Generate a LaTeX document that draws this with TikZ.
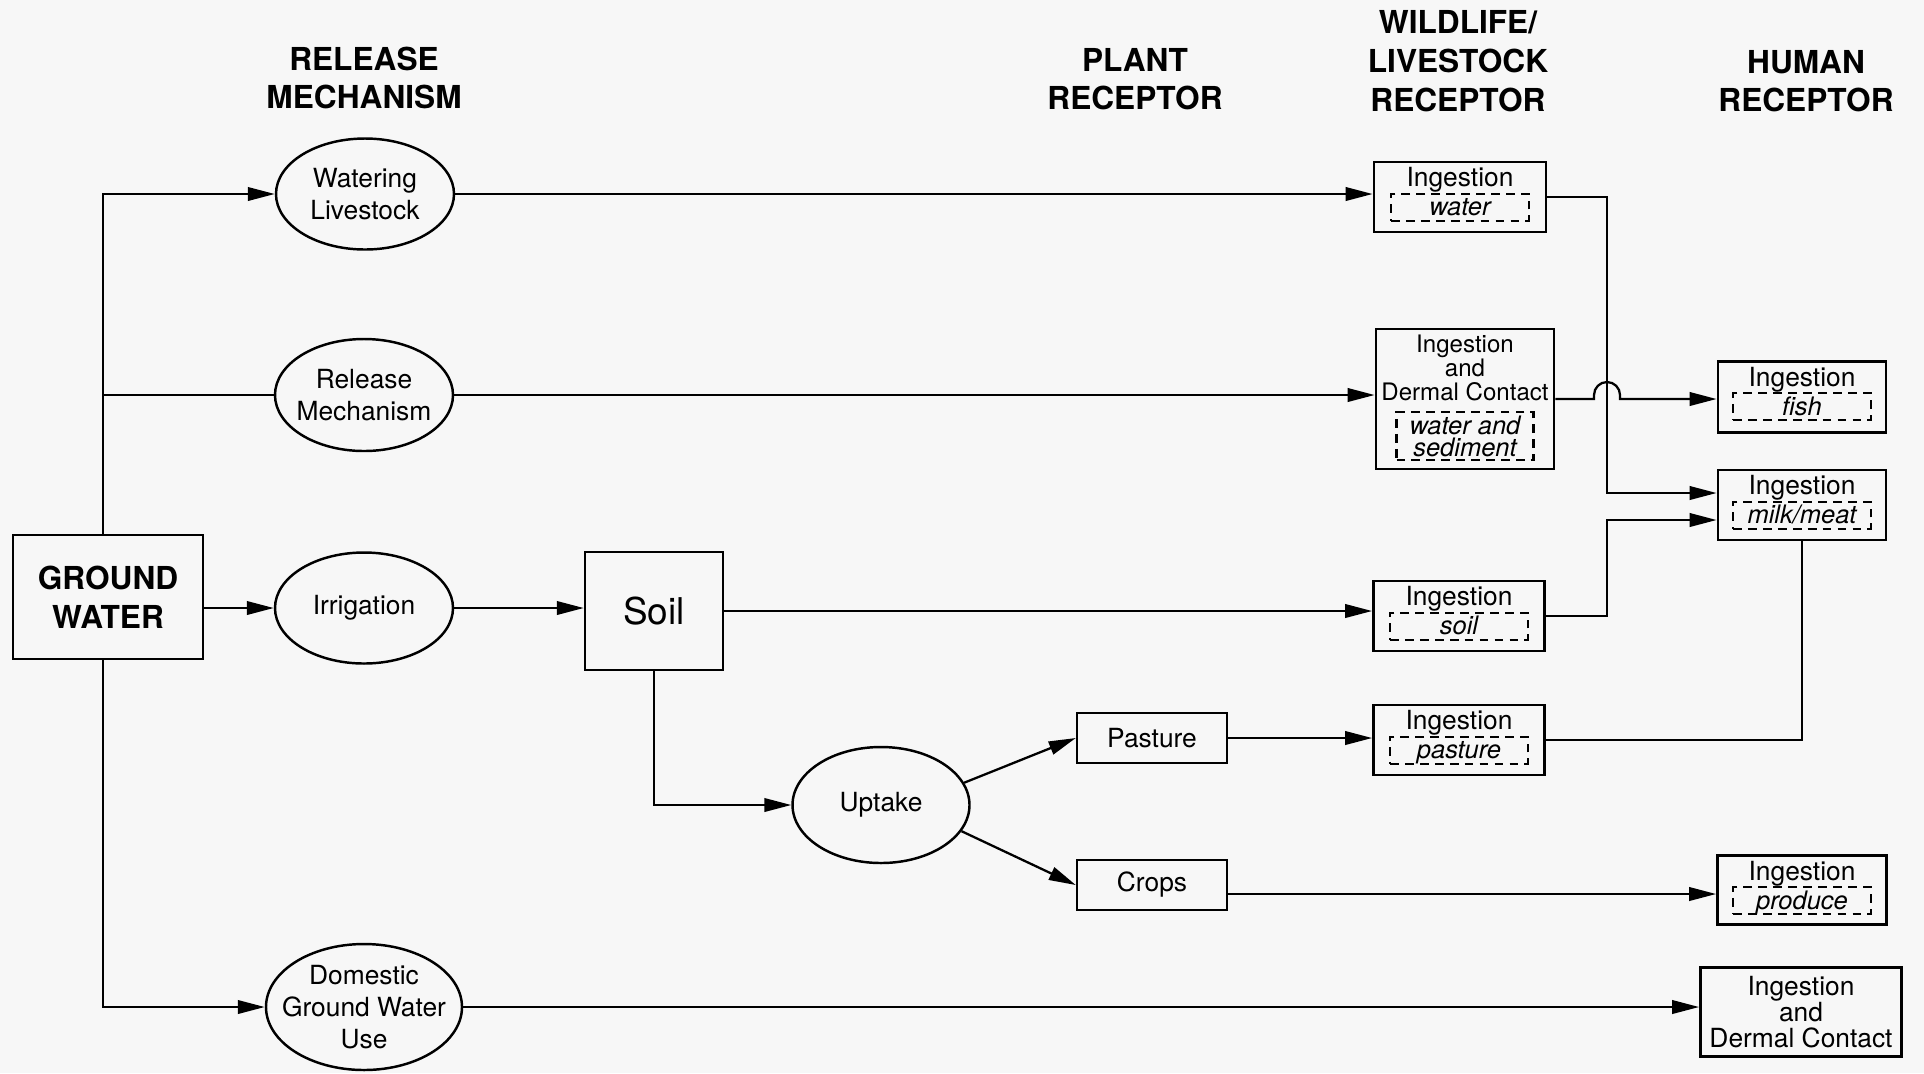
\documentclass[tikz,border=0pt]{standalone}
\usepackage{fontspec}
\setmainfont{TeX Gyre Heros}
\usepackage{tikz}
\usetikzlibrary{arrows.meta}
\usetikzlibrary{shapes.geometric}
\usetikzlibrary{positioning}

\begin{document}
\begin{tikzpicture}[x=0.2mm, y=-0.2mm, >={Triangle[length=0.54cm,width=0.27cm]}]
  \tikzstyle{every node}=[font=\fontsize{15}{18}\selectfont, align=center]
  \tikzstyle{head}=[font=\fontsize{18}{22}\selectfont\bfseries]
  \tikzstyle{mech}=[ellipse, draw, line width=1.4pt, inner xsep=-10pt, inner ysep=0pt, minimum width=3.56cm, minimum height=2.22cm]
  \tikzstyle{plant}=[rectangle, draw, line width=1.4pt, minimum width=3cm, minimum height=1cm]
  \tikzstyle{ingbox}=[rectangle, draw, line width=1.6pt, minimum width=3.42cm, minimum height=1.4cm]
  \tikzstyle{ingtxt}=[anchor=base, inner sep=0pt]
  \tikzstyle{media}=[rectangle, draw, dash pattern=on 5pt off 3.5pt, line width=1.2pt, minimum width=2.76cm, minimum height=0.54cm, inner sep=0pt, text height=9.5pt, text depth=0pt, font=\fontsize{14.5}{13}\selectfont\itshape, anchor=north]
  \tikzstyle{link}=[line width=1.3pt]

  \fill[black!3] (0,0) rectangle (1924,1073);
  \useasboundingbox (0,0) rectangle (1924,1073);

  % column headings
  \node[head] (hrel) at (364,78) {RELEASE\\MECHANISM};
  \node[head] (hplant) at (1135,79) {PLANT\\RECEPTOR};
  \node[head] (hwild) at (1458,61) {WILDLIFE/\\LIVESTOCK\\RECEPTOR};
  \node[head] (hhum) at (1806,81) {HUMAN\\RECEPTOR};

  \node[rectangle, draw, line width=1.6pt, minimum width=3.8cm, minimum height=2.48cm, head] (gw) at (108,597) {GROUND\\WATER};

  \node[mech] (wat) at (365,194) {Watering\\Livestock};
  \node[mech, minimum height=2.24cm] (rel) at (364,395) {Release\\Mechanism};
  \node[mech] (irr) at (364,608) {Irrigation};
  \node[mech, minimum width=3.92cm, minimum height=2.52cm] (dom) at (364,1007) {Domestic\\Ground Water\\Use};
  \node[rectangle, draw, line width=1.4pt, minimum width=2.76cm, minimum height=2.36cm, font=\fontsize{21}{25}\selectfont] (soil) at (654,611) {Soil};
  \node[mech, minimum width=3.54cm, minimum height=2.32cm] (upt) at (881,805) {Uptake};
  \node[plant] (past) at (1152,738) {Pasture};
  \node[plant] (crop) at (1152,885) {Crops};

  % wildlife / livestock
  \node[ingbox, minimum width=3.44cm] (lwat) at (1460,197) {};
  \node[ingtxt] (lwat-t) at ([yshift=-0.52cm]lwat.north) {Ingestion};
  \node[media] (lwat-m) at ([yshift=-0.64cm]lwat.north) {water};

  \node[ingbox, minimum width=3.56cm, minimum height=2.8cm] (lder) at (1465,399) {};
  \node[inner sep=0pt, font=\fontsize{13.7}{13.7}\selectfont] (lder-t) at ([yshift=0.62cm]lder.center) {Ingestion\\and\\Dermal Contact};
  \node[media, anchor=south, minimum width=2.74cm, minimum height=0.96cm, text height={}, text depth={}] (lder-m) at ([yshift=0.18cm]lder.south) {water and\\sediment};

  \node[ingbox] (lsoil) at (1459,616) {};
  \node[ingtxt] (lsoil-t) at ([yshift=-0.52cm]lsoil.north) {Ingestion};
  \node[media] (lsoil-m) at ([yshift=-0.64cm]lsoil.north) {soil};

  \node[ingbox] (lpast) at (1459,740) {};
  \node[ingtxt] (lpast-t) at ([yshift=-0.52cm]lpast.north) {Ingestion};
  \node[media] (lpast-m) at ([yshift=-0.64cm]lpast.north) {pasture};

  % human
  \node[ingbox, minimum width=3.36cm, minimum height=1.42cm] (hfish) at (1802,397) {};
  \node[ingtxt] (hfish-t) at ([yshift=-0.52cm]hfish.north) {Ingestion};
  \node[media] (hfish-m) at ([yshift=-0.64cm]hfish.north) {fish};

  \node[ingbox, minimum width=3.36cm] (hmeat) at (1802,505) {};
  \node[ingtxt] (hmeat-t) at ([yshift=-0.52cm]hmeat.north) {Ingestion};
  \node[media] (hmeat-m) at ([yshift=-0.64cm]hmeat.north) {milk/meat};

  \node[ingbox, minimum width=3.38cm, minimum height=1.38cm] (hprod) at (1802,890) {};
  \node[ingtxt] (hprod-t) at ([yshift=-0.52cm]hprod.north) {Ingestion};
  \node[media] (hprod-m) at ([yshift=-0.64cm]hprod.north) {produce};

  \node[ingbox, minimum width=4.02cm, minimum height=1.78cm, font=\fontsize{15}{15}\selectfont] (hder) at (1801,1012) {Ingestion\\and\\Dermal Contact};

  \coordinate (trunk) at (103,194);
  \coordinate (jw) at (1607,493);
  \coordinate (js) at (1607,520);

  \draw[link,->] (gw.north -| trunk) -- (trunk) -- (wat.west);
  \draw[link] (rel.west -| trunk) -- (rel.west);
  \draw[link,->] (gw.east |- irr.west) -- (irr.west);
  \draw[link,->] (gw.south -| trunk) |- (dom.west);
  \draw[link,->] (wat.east) -- (wat.east -| lwat.west);
  \draw[link,->] (rel.east) -- (rel.east -| lder.west);
  \draw[link,->] (irr.east) -- (irr.east -| soil.west);
  \draw[link,->] (soil.east) -- (soil.east -| lsoil.west);
  \draw[link,->] (soil.south) |- (upt.west);
  \draw[link,->] (upt.15) -- (past.west);
  \draw[link,->] (upt.-18) -- (crop.west);
  \draw[link,->] (past.east) -- (past.east -| lpast.west);
  \draw[link,->] ([yshift=-0.18cm]crop.east) -- ([yshift=-0.18cm]crop.east -| hprod.west);
  \draw[link,->] (dom.east) -- (dom.east -| hder.west);
  \draw[link,->] (lwat.east) -| (jw) -- (jw -| hmeat.west);
  \draw[link,->] (lsoil.east) -| (js) -- (js -| hmeat.west);
  \draw[link] (lpast.east) -| (hmeat.south);
  \draw[link,->] (lder.east) -- ([xshift=-0.26cm]lder.east -| jw) -- ++(0,0.08cm) arc[start angle=180, end angle=0, radius=0.26cm] -- ++(0,-0.08cm) -- (lder.east -| hfish.west);
\end{tikzpicture}
\end{document}
